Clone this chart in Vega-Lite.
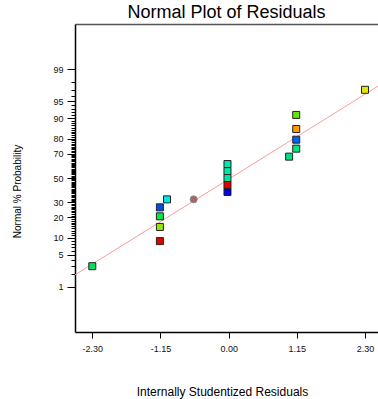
{
  "$schema": "https://vega.github.io/schema/vega-lite/v6.json",
  "width": 303,
  "height": 308,
  "autosize": "none",
  "padding": {"left": 75, "top": 24, "right": 0, "bottom": 67},
  "background": "white",
  "config": {"view": {"stroke": null}, "font": "Liberation Sans"},
  "title": {"text": "Normal Plot of Residuals", "fontSize": 18, "fontWeight": "normal", "color": "#000", "font": "Liberation Sans", "anchor": "middle", "frame": "group", "baseline": "alphabetic", "offset": 6, "dy": 18},
  "datasets": {
    "points": [
      {"id": "r01", "marker": "square", "residual": -2.30, "z": -1.890},
      {"id": "r02", "marker": "square", "residual": -1.16, "z": -1.352},
      {"id": "r03", "marker": "square", "residual": -1.16, "z": -1.049},
      {"id": "r04", "marker": "square", "residual": -1.16, "z": -0.821},
      {"id": "r05", "marker": "square", "residual": -1.16, "z": -0.629},
      {"id": "r06", "marker": "square", "residual": -1.04, "z": -0.458},
      {"id": "r07", "marker": "square", "residual": -0.02, "z": -0.299},
      {"id": "r08", "marker": "square", "residual": -0.02, "z": -0.148},
      {"id": "r09", "marker": "square", "residual": -0.02, "z": 0.0},
      {"id": "r10", "marker": "square", "residual": -0.02, "z": 0.148},
      {"id": "r11", "marker": "square", "residual": -0.02, "z": 0.299},
      {"id": "r12", "marker": "square", "residual": 1.02, "z": 0.458},
      {"id": "r13", "marker": "square", "residual": 1.14, "z": 0.629},
      {"id": "r14", "marker": "square", "residual": 1.14, "z": 0.821},
      {"id": "r15", "marker": "square", "residual": 1.14, "z": 1.049},
      {"id": "r16", "marker": "square", "residual": 1.14, "z": 1.352},
      {"id": "r17", "marker": "square", "residual": 2.30, "z": 1.890},
      {"id": "r18", "marker": "circle", "residual": -0.59, "z": -0.458}
    ],
    "fit": [
      {"residual": -2.592, "z": -2.075},
      {"residual": 2.519, "z": 1.968}
    ]
  },
  "encoding": {
    "y": {
      "field": "z",
      "type": "quantitative",
      "scale": {"domain": [-3.3, 3.3], "nice": false, "zero": false},
      "axis": {
        "title": "Normal % Probability",
        "titleFontSize": 10,
        "titleFontWeight": "normal",
        "titleColor": "#000",
        "titleAngle": 270,
        "titleBaseline": "alphabetic",
        "titleX": -55,
        "titleY": 167,
        "values": [-2.3263,-2.0537,-1.8808,-1.7507,-1.6449,-1.5548,-1.4758,-1.4051,-1.3408,-1.2816,-1.2265,-1.175,-1.1264,-1.0803,-1.0364,-0.9945,-0.9542,-0.9154,-0.8779,-0.8416,-0.8064,-0.7722,-0.7388,-0.7063,-0.6745,-0.6433,-0.6128,-0.5828,-0.5534,-0.5244,-0.4959,-0.4677,-0.4399,-0.4125,-0.3853,-0.3585,-0.3319,-0.3055,-0.2793,-0.2533,-0.2275,-0.2019,-0.1764,-0.151,-0.1257,-0.1004,-0.0753,-0.0502,-0.0251,0,0.0251,0.0502,0.0753,0.1004,0.1257,0.151,0.1764,0.2019,0.2275,0.2533,0.2793,0.3055,0.3319,0.3585,0.3853,0.4125,0.4399,0.4677,0.4959,0.5244,0.5534,0.5828,0.6128,0.6433,0.6745,0.7063,0.7388,0.7722,0.8064,0.8416,0.8779,0.9154,0.9542,0.9945,1.0364,1.0803,1.1264,1.175,1.2265,1.2816,1.3408,1.4051,1.4758,1.5548,1.6449,1.7507,1.8808,2.0537,2.3263],
        "labelExpr": "indexof([1,5,10,20,30,50,70,80,90,95,99], round(100*cumulativeNormal(datum.value))) >= 0 ? format(round(100*cumulativeNormal(datum.value)), 'd') : ''",
        "labelOverlap": false,
        "labelBound": false,
        "labelFlush": false,
        "labelFontSize": 9,
        "labelColor": "#111",
        "labelPadding": 4,
        "tickSize": {"condition": {"test": "indexof([1,5,10,20,30,50,70,80,90,95,99], round(100*cumulativeNormal(datum.value))) >= 0", "value": 8}, "value": 4},
        "tickColor": "#000",
        "tickWidth": 1,
        "domainColor": "#000",
        "domainWidth": 1.5,
        "grid": false
      }
    }
  },
  "layer": [
    {
      "data": {"name": "fit"},
      "mark": {"type": "line", "color": "#ff9a9a", "strokeWidth": 1, "clip": true},
      "encoding": {
        "x": {
          "field": "residual",
          "type": "quantitative",
          "scale": {"domain": [-2.592, 2.519], "nice": false, "zero": false},
          "axis": {"orient": "top", "domainColor": "#555", "domainWidth": 1.5, "ticks": false, "labels": false, "title": null, "grid": false}
        }
      }
    },
    {
      "data": {"name": "points"},
      "mark": {"type": "point", "filled": true, "size": 49, "strokeWidth": 1, "opacity": 1},
      "encoding": {
        "x": {
          "field": "residual",
          "type": "quantitative",
          "scale": {"domain": [-2.592, 2.519], "nice": false, "zero": false},
          "axis": {
            "orient": "bottom",
            "title": "Internally Studentized Residuals",
            "titleFontSize": 12,
            "titleFontWeight": "normal",
            "titleColor": "#000",
            "titleBaseline": "alphabetic",
            "titleX": 147,
            "titleY": 63,
            "values": [-2.3, -1.15, 0, 1.15, 2.3],
            "labelExpr": "replace(format(datum.value, '.2f'), '\u2212', '-')",
            "labelFontSize": 9,
            "labelColor": "#111",
            "labelPadding": 6,
            "labelFlush": false,
            "labelBound": false,
            "labelOverlap": false,
            "tickSize": 6,
            "tickColor": "#000",
            "domainColor": "#000",
            "domainWidth": 1.5,
            "grid": false
          }
        },
        "color": {
          "field": "id",
          "type": "nominal",
          "legend": null,
          "scale": {
            "domain": ["r01","r02","r03","r04","r05","r06","r07","r08","r09","r10","r11","r12","r13","r14","r15","r16","r17","r18"],
            "range": ["#00e060","#e60000","#99e600","#00e64d","#0050e6","#00e6e6","#0000e6","#e60000","#00e6a0","#00e6a8","#00e6b0","#00e080","#00e67a","#0060f0","#ff9900","#66e600","#e6e600","#b06060"]
          }
        },
        "shape": {
          "field": "marker",
          "type": "nominal",
          "legend": null,
          "scale": {"domain": ["square", "circle"], "range": ["square", "circle"]}
        },
        "stroke": {
          "field": "marker",
          "type": "nominal",
          "legend": null,
          "scale": {"domain": ["square", "circle"], "range": ["#222222", "#888888"]}
        }
      }
    }
  ],
  "resolve": {"axis": {"x": "independent"}}
}
